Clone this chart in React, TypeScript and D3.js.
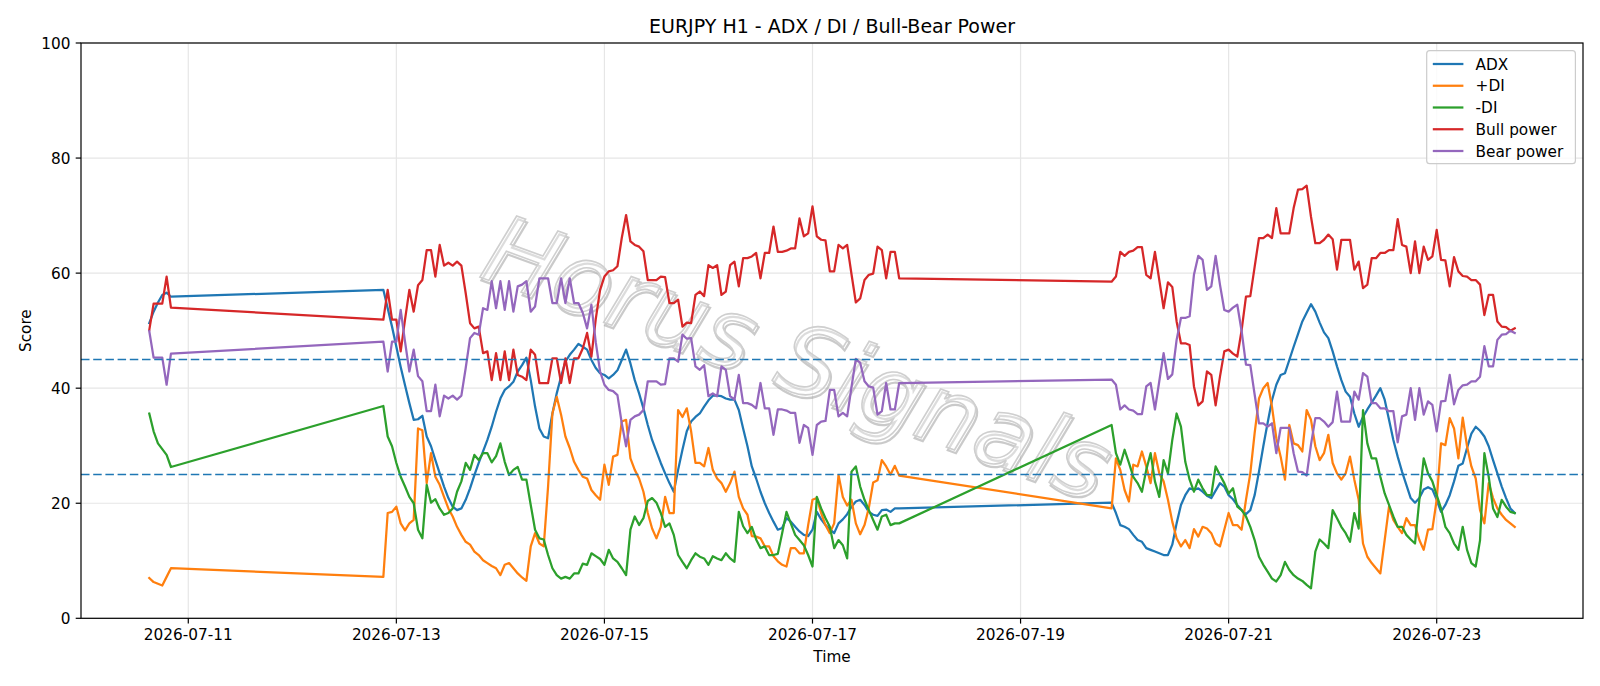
import * as d3 from "d3";
import React, { useEffect, useRef } from "react";

// trading sessions: first bar (UTC) and number of hourly bars
const sessions: [string, number][] = [
  ["2026-07-10T15:00:00Z", 6],
  ["2026-07-12T21:00:00Z", 120],
  ["2026-07-19T21:00:00Z", 94],
];

const xTickDates = ["2026-07-11", "2026-07-13", "2026-07-15", "2026-07-17", "2026-07-19", "2026-07-21", "2026-07-23"];
const yTicks = [0, 20, 40, 60, 80, 100];
const levels = [25, 45];

const adx = [
  51.3, 53.3, 54.9, 56.2, 56.6, 55.9,
  57.1, 53.9, 50.7, 47.2, 43.7, 40.5, 37.4, 34.5, 34.6, 35.2,
  31.6, 29.9, 27.5, 25.2, 22.9, 20.9, 19.4, 18.8, 19.1, 20.6,
  22.6, 24.9, 27.0, 29.0, 31.0, 33.3, 35.9, 38.2, 39.7, 40.3,
  41.1, 42.9, 44.0, 45.3, 41.4, 36.8, 33.0, 31.6, 31.3, 35.6,
  39.1, 42.0, 44.6, 45.8, 46.7, 47.7, 47.2, 46.7, 44.9, 43.5,
  42.6, 42.3, 41.7, 42.3, 43.1, 44.9, 46.7, 44.3, 41.4, 39.1,
  36.5, 33.6, 31.0, 29.0, 27.0, 25.2, 23.5, 22.0, 25.8, 29.3,
  32.5, 34.2, 35.0, 35.6, 36.8, 37.9, 38.7, 38.7, 38.6, 38.2,
  38.0, 38.0, 36.2, 33.0, 29.9, 26.4, 24.3, 22.0, 20.0, 18.3,
  16.8, 15.4, 15.7, 17.4, 16.8, 15.9, 15.1, 14.5, 14.3, 15.4,
  18.5, 17.2, 16.2, 15.5, 14.8, 16.5, 17.2, 18.1, 19.4, 20.3,
  20.6, 19.7, 18.5, 18.0, 17.8, 18.8, 18.9, 18.5, 19.1, 19.1,
  20.1, 18.3, 16.2, 15.9, 15.5, 14.5, 13.6, 13.3, 12.2, 11.9,
  11.6, 11.3, 11.0, 11.0, 12.8, 16.5, 19.7, 21.4, 22.6, 22.3,
  22.6, 22.0, 21.3, 20.9, 22.2, 23.5, 22.9, 21.4, 20.7, 19.7,
  18.8, 18.1, 18.8, 21.4, 25.5, 29.9, 34.0, 37.9, 40.6, 42.3,
  42.6, 44.9, 47.2, 49.4, 51.6, 53.1, 54.6, 53.3, 51.4, 49.7,
  48.7, 46.4, 43.8, 41.4, 39.4, 38.5, 35.6, 33.3, 35.0, 36.3,
  37.5, 38.7, 40.0, 38.0, 34.5, 31.0, 28.1, 25.5, 23.2, 20.9,
  20.1, 20.9, 22.4, 22.8, 22.4, 20.6, 18.5, 19.7, 21.4, 23.8,
  26.5, 26.9, 29.6, 32.1, 33.3, 32.6, 31.6, 29.9, 27.5, 25.2,
  22.9, 20.9, 19.1, 18.3,
];

const plusDi = [
  7.0, 6.3, 6.0, 5.7, 7.2, 8.7,
  7.2, 18.3, 18.5, 19.4, 16.5, 15.3, 16.5, 17.1, 33.0, 32.7,
  23.5, 28.7, 24.6, 23.2, 21.1, 19.1, 17.7, 15.9, 14.5, 13.3,
  12.8, 11.6, 11.0, 10.1, 9.6, 9.1, 8.7, 7.5, 9.3, 9.6,
  8.7, 7.8, 7.1, 6.5, 12.5, 14.8, 13.0, 12.5, 22.9, 35.6,
  38.5, 35.4, 31.6, 29.6, 27.2, 25.8, 24.6, 24.3, 22.3, 21.4,
  20.6, 26.7, 23.2, 28.1, 28.4, 34.2, 34.5, 27.8, 25.8, 24.3,
  22.0, 18.3, 15.6, 13.9, 15.9, 21.1, 18.3, 18.3, 36.2, 35.0,
  36.5, 32.5, 27.0, 27.0, 26.4, 29.6, 25.8, 24.3, 23.5, 22.0,
  23.5, 25.5, 21.1, 19.1, 18.0, 14.3, 14.2, 13.9, 12.5, 12.5,
  10.8, 9.9, 9.3, 9.0, 12.2, 12.2, 11.3, 11.3, 16.2, 20.6,
  20.9, 18.3, 16.2, 14.8, 16.5, 24.9, 21.1, 19.6, 20.6, 16.5,
  14.6, 16.2, 19.2, 23.6, 24.0, 27.5, 26.4, 25.0, 26.5, 24.8,
  19.1, 27.8, 25.8, 22.3, 20.3, 26.7, 26.4, 29.0, 26.4, 23.5,
  28.7, 25.2, 23.8, 20.6, 16.8, 13.9, 12.5, 13.6, 12.2, 15.5,
  14.2, 15.9, 15.6, 14.8, 13.0, 12.5, 15.4, 18.3, 16.2, 16.2,
  15.4, 20.6, 25.2, 32.2, 38.2, 40.0, 40.9, 36.8, 31.3, 28.1,
  24.1, 33.6, 30.4, 30.1, 29.0, 36.2, 34.5, 29.9, 27.5, 28.7,
  31.9, 27.0, 25.2, 24.1, 25.2, 28.1, 24.1, 20.6, 13.0, 10.7,
  9.6, 8.7, 7.8, 13.6, 19.4, 17.1, 15.9, 14.8, 17.4, 16.2,
  16.2, 13.6, 11.9, 15.4, 15.5, 20.6, 30.4, 30.1, 34.8, 33.0,
  27.8, 34.9, 29.9, 26.4, 24.3, 18.8, 16.5, 23.5, 20.9, 19.1,
  18.0, 17.1, 16.5, 15.9,
];

const minusDi = [
  35.6, 32.5, 30.4, 29.4, 28.4, 26.3,
  36.9, 31.6, 29.9, 27.0, 24.6, 22.9, 21.1, 20.0, 15.4, 13.9,
  23.2, 20.1, 20.7, 19.1, 18.0, 18.3, 19.1, 22.0, 23.8, 27.0,
  25.8, 28.4, 27.5, 28.7, 28.7, 27.1, 28.2, 30.4, 27.2, 24.9,
  25.8, 26.3, 24.1, 24.1, 19.7, 15.4, 13.9, 13.7, 11.0, 8.7,
  7.5, 6.9, 7.2, 6.9, 7.8, 7.8, 9.5, 9.3, 11.3, 10.8,
  10.3, 9.3, 11.9, 10.4, 9.8, 8.7, 7.5, 15.4, 17.7, 16.2,
  17.4, 20.4, 20.9, 20.1, 18.3, 15.9, 16.5, 14.5, 11.0, 9.8,
  8.7, 10.1, 11.3, 10.7, 10.4, 9.3, 10.8, 10.4, 10.1, 11.3,
  10.4, 9.8, 18.5, 16.0, 14.8, 15.9, 13.7, 12.2, 12.5, 11.0,
  11.0, 11.2, 14.8, 18.5, 16.5, 14.5, 13.6, 12.7, 11.0, 9.0,
  21.1, 19.1, 17.4, 15.9, 12.2, 13.6, 12.7, 10.4, 25.5, 26.4,
  22.9, 20.6, 18.8, 17.1, 15.4, 17.7, 18.0, 16.2, 16.5, 16.5,
  33.6, 28.7, 26.7, 29.3, 27.0, 24.6, 23.5, 22.0, 25.8, 28.7,
  23.8, 21.1, 27.5, 25.2, 31.0, 35.6, 33.3, 27.2, 24.1, 22.0,
  24.1, 22.6, 21.4, 21.4, 26.4, 24.9, 23.5, 21.7, 22.6, 19.4,
  18.8, 17.7, 15.9, 13.6, 10.7, 9.3, 8.1, 6.9, 6.4, 7.5,
  9.8, 8.4, 7.5, 6.9, 6.5, 5.8, 5.2, 11.6, 13.7, 13.0,
  12.2, 18.8, 17.4, 15.9, 14.8, 13.3, 18.3, 15.6, 36.2, 30.4,
  27.8, 27.8, 24.6, 21.7, 19.7, 17.7, 15.9, 15.9, 14.5, 13.7,
  13.0, 20.6, 27.8, 25.2, 23.8, 21.4, 19.1, 15.9, 14.8, 13.0,
  11.9, 15.9, 11.9, 9.6, 9.0, 13.6, 28.7, 24.6, 19.1, 17.6,
  20.6, 19.4, 18.5, 18.3,
];

const bullPower = [
  50.1, 54.7, 54.7, 54.7, 59.4, 54.0,
  51.9, 57.1, 51.9, 51.9, 46.4, 51.9, 57.1, 53.3, 57.9, 58.8,
  64.0, 64.0, 59.4, 64.9, 61.3, 61.8, 61.3, 62.0, 61.3, 56.5,
  51.3, 50.4, 50.7, 46.1, 46.4, 41.4, 46.1, 41.4, 46.4, 41.4,
  46.7, 42.3, 42.0, 41.4, 46.7, 45.8, 40.9, 40.9, 40.9, 45.2,
  45.2, 40.9, 45.2, 40.9, 45.2, 45.2, 46.9, 49.6, 45.5, 52.0,
  57.1, 59.4, 60.3, 60.5, 61.2, 66.1, 70.1, 65.5, 64.9, 64.6,
  63.8, 58.8, 58.8, 58.8, 59.4, 59.3, 54.8, 54.8, 55.4, 50.7,
  51.4, 51.3, 56.2, 56.8, 56.0, 61.4, 60.9, 61.4, 56.2, 56.8,
  61.4, 62.0, 57.7, 62.6, 62.6, 62.9, 63.5, 59.1, 63.5, 63.5,
  68.1, 63.7, 63.7, 63.9, 64.3, 64.3, 69.5, 66.4, 66.9, 71.6,
  66.4, 65.8, 65.7, 60.3, 60.3, 64.9, 64.3, 64.9, 59.8, 54.9,
  55.6, 58.8, 59.7, 59.9, 64.6, 64.0, 59.1, 63.7, 63.7, 59.1,
  58.5, 59.4, 63.7, 63.0, 63.7, 63.9, 64.5, 64.5, 59.7, 59.1,
  63.7, 58.8, 53.9, 58.4, 57.6, 51.6, 47.8, 47.8, 47.5, 40.3,
  37.0, 37.7, 42.9, 42.3, 37.0, 42.0, 46.4, 46.7, 46.0, 45.5,
  50.1, 55.9, 56.0, 61.1, 66.1, 66.1, 66.7, 66.1, 71.3, 66.9,
  66.9, 66.9, 71.3, 74.5, 74.6, 75.2, 69.8, 65.2, 65.2, 65.8,
  66.7, 65.9, 60.6, 65.8, 65.8, 65.8, 60.6, 62.0, 57.4, 58.0,
  62.6, 62.6, 63.5, 63.5, 64.0, 64.0, 69.4, 64.9, 64.6, 60.0,
  65.5, 60.0, 64.6, 62.3, 62.9, 67.5, 62.3, 62.2, 57.7, 62.8,
  60.3, 59.5, 59.4, 58.8, 58.8, 58.0, 52.7, 56.2, 56.2, 51.6,
  50.7, 50.6, 50.0, 50.4,
];

const bearPower = [
  49.9, 45.3, 45.3, 45.3, 40.6, 46.0,
  48.1, 42.9, 48.1, 48.1, 53.6, 48.1, 42.9, 46.7, 42.1, 41.2,
  36.0, 36.0, 40.6, 35.1, 38.7, 38.2, 38.7, 38.0, 38.7, 43.5,
  48.7, 49.6, 49.3, 53.9, 53.6, 58.6, 53.9, 58.6, 53.6, 58.6,
  53.3, 57.7, 58.0, 58.6, 53.3, 54.2, 59.1, 59.1, 59.1, 54.8,
  54.8, 59.1, 54.8, 59.1, 54.8, 54.8, 53.1, 50.4, 54.5, 48.0,
  42.9, 40.6, 39.7, 39.5, 38.8, 33.9, 29.9, 34.5, 35.1, 35.4,
  36.2, 41.2, 41.2, 41.2, 40.6, 40.7, 45.2, 45.2, 44.6, 49.3,
  48.6, 48.7, 43.8, 43.2, 44.0, 38.6, 39.1, 38.6, 43.8, 43.2,
  38.6, 38.0, 42.3, 37.4, 37.4, 37.1, 36.5, 40.9, 36.5, 36.5,
  31.9, 36.3, 36.3, 36.1, 35.7, 35.7, 30.5, 33.6, 33.1, 28.4,
  33.6, 34.2, 34.3, 39.7, 39.7, 35.1, 35.7, 35.1, 40.2, 45.1,
  44.4, 41.2, 40.3, 40.1, 35.4, 36.0, 40.9, 36.3, 36.3, 40.9,
  41.5, 40.6, 36.3, 37.0, 36.3, 36.1, 35.5, 35.5, 40.3, 40.9,
  36.3, 41.2, 46.1, 41.6, 42.4, 48.4, 52.2, 52.2, 52.5, 59.7,
  63.0, 62.3, 57.1, 57.7, 63.0, 58.0, 53.6, 53.3, 54.0, 54.5,
  49.9, 44.1, 44.0, 38.9, 33.9, 33.9, 33.3, 33.9, 28.7, 33.1,
  33.1, 33.1, 28.7, 25.5, 25.4, 24.8, 30.2, 34.8, 34.8, 34.2,
  33.3, 34.1, 39.4, 34.2, 34.2, 34.2, 39.4, 38.0, 42.6, 42.0,
  37.4, 37.4, 36.5, 36.5, 36.0, 36.0, 30.6, 35.1, 35.4, 40.0,
  34.5, 40.0, 35.4, 37.7, 37.1, 32.5, 37.7, 37.8, 42.3, 37.2,
  39.7, 40.5, 40.6, 41.2, 41.2, 42.0, 47.3, 43.8, 43.8, 48.4,
  49.3, 49.4, 50.0, 49.6,
];

const series = [
  { name: "ADX", values: adx, color: "#1f77b4" },
  { name: "+DI", values: plusDi, color: "#ff7f0e" },
  { name: "-DI", values: minusDi, color: "#2ca02c" },
  { name: "Bull power", values: bullPower, color: "#d62728" },
  { name: "Bear power", values: bearPower, color: "#9467bd" },
];

const W = 1600;
const H = 686;
const margin = { top: 43, right: 17, bottom: 67.7, left: 81 };
const FONT = "DejaVu Sans, sans-serif";
const FS = 15.3;

const App: React.FC = () => {
  const svgRef = useRef<SVGSVGElement>(null);

  useEffect(() => {
    const svg = d3.select(svgRef.current);
    svg.selectAll("*").remove();

    const times: Date[] = sessions.flatMap(([start, n]) =>
      d3.range(n).map((i) => new Date(Date.parse(start) + i * 3600 * 1000)),
    );

    const left = margin.left;
    const right = W - margin.right;
    const top = margin.top;
    const bottom = H - margin.bottom;

    // matplotlib-style 5% padding on the time axis
    const [t0, t1] = d3.extent(times) as [Date, Date];
    const pad = (t1.getTime() - t0.getTime()) * 0.05;
    const x = d3
      .scaleUtc()
      .domain([new Date(t0.getTime() - pad), new Date(t1.getTime() + pad)])
      .range([left, right]);
    const y = d3.scaleLinear().domain([0, 100]).range([bottom, top]);

    svg.append("rect").attr("width", W).attr("height", H).attr("fill", "#ffffff");

    const xTicks = xTickDates.map((d) => new Date(d + "T00:00:00Z"));
    const fmt = d3.utcFormat("%Y-%m-%d");

    // grid
    const grid = svg.append("g").attr("stroke", "#e6e6e6").attr("stroke-width", 1.2);
    xTicks.forEach((t) => {
      grid.append("line").attr("x1", x(t)).attr("x2", x(t)).attr("y1", top).attr("y2", bottom);
    });
    yTicks.forEach((v) => {
      grid.append("line").attr("x1", left).attr("x2", right).attr("y1", y(v)).attr("y2", y(v));
    });

    // watermark
    const wm = svg
      .append("g")
      .attr("transform", `translate(${(left + right) / 2 - 46},${(top + bottom) / 2 + 58}) rotate(20)`)
      .attr("font-family", FONT)
      .attr("font-style", "italic")
      .attr("font-size", 96)
      .attr("text-anchor", "middle");
    wm.append("text")
      .attr("x", 2.5)
      .attr("y", 2.5)
      .attr("fill", "none")
      .attr("stroke", "#8c8c8c")
      .attr("stroke-width", 2.2)
      .attr("opacity", 0.45)
      .text("Horus Signals");
    wm.append("text")
      .attr("fill", "#ffffff")
      .attr("fill-opacity", 0.35)
      .attr("stroke", "#cfcfcf")
      .attr("stroke-width", 1.6)
      .text("Horus Signals");

    // series
    const line = d3
      .line<number>()
      .x((_, i) => x(times[i]))
      .y((v) => y(v));
    series.forEach((s) => {
      svg
        .append("path")
        .datum(s.values)
        .attr("d", line)
        .attr("fill", "none")
        .attr("stroke", s.color)
        .attr("stroke-width", 2.25)
        .attr("stroke-linejoin", "round")
        .attr("stroke-linecap", "square");
    });

    // threshold levels
    levels.forEach((v) => {
      svg
        .append("line")
        .attr("x1", left)
        .attr("x2", right)
        .attr("y1", y(v))
        .attr("y2", y(v))
        .attr("stroke", "#1f77b4")
        .attr("stroke-width", 1.5)
        .attr("stroke-dasharray", "8.5 3.7");
    });

    // frame
    svg
      .append("rect")
      .attr("x", left)
      .attr("y", top)
      .attr("width", right - left)
      .attr("height", bottom - top)
      .attr("fill", "none")
      .attr("stroke", "#000")
      .attr("stroke-width", 1.2);

    // x axis
    const xAxis = svg.append("g").attr("font-family", FONT).attr("font-size", FS);
    xTicks.forEach((t) => {
      xAxis.append("line").attr("x1", x(t)).attr("x2", x(t)).attr("y1", bottom).attr("y2", bottom + 5.3).attr("stroke", "#000").attr("stroke-width", 1.2);
      xAxis.append("text").attr("x", x(t)).attr("y", bottom + 22).attr("text-anchor", "middle").attr("fill", "#000").text(fmt(t));
    });

    // y axis
    const yAxis = svg.append("g").attr("font-family", FONT).attr("font-size", FS);
    yTicks.forEach((v) => {
      yAxis.append("line").attr("x1", left - 5.3).attr("x2", left).attr("y1", y(v)).attr("y2", y(v)).attr("stroke", "#000").attr("stroke-width", 1.2);
      yAxis.append("text").attr("x", left - 10.5).attr("y", y(v) + 5.5).attr("text-anchor", "end").attr("fill", "#000").text(v);
    });

    // labels
    svg.append("text").attr("x", (left + right) / 2).attr("y", 662).attr("text-anchor", "middle").attr("font-family", FONT).attr("font-size", FS).text("Time");
    svg
      .append("text")
      .attr("transform", `translate(31,${(top + bottom) / 2}) rotate(-90)`)
      .attr("text-anchor", "middle")
      .attr("font-family", FONT)
      .attr("font-size", FS)
      .text("Score");
    svg.append("text").attr("x", (left + right) / 2).attr("y", 33).attr("text-anchor", "middle").attr("font-family", FONT).attr("font-size", 19).text("EURJPY H1 - ADX / DI / Bull-Bear Power");

    // legend
    const lg = svg.append("g").attr("font-family", FONT).attr("font-size", FS);
    lg.append("rect")
      .attr("x", 1426.7)
      .attr("y", 50.7)
      .attr("width", 148.7)
      .attr("height", 113)
      .attr("rx", 3)
      .attr("fill", "#ffffff")
      .attr("fill-opacity", 0.8)
      .attr("stroke", "#cccccc")
      .attr("stroke-width", 1.2);
    series.forEach((s, i) => {
      const cy = 64 + i * 21.75;
      lg.append("line").attr("x1", 1432.8).attr("x2", 1463.4).attr("y1", cy).attr("y2", cy).attr("stroke", s.color).attr("stroke-width", 2.25);
      lg.append("text").attr("x", 1475.6).attr("y", cy + 5.5).attr("fill", "#000").text(s.name);
    });
  }, []);

  return <svg ref={svgRef} width={W} height={H} style={{ position: "absolute", left: 0, top: 0 }} />;
};

export default App;
